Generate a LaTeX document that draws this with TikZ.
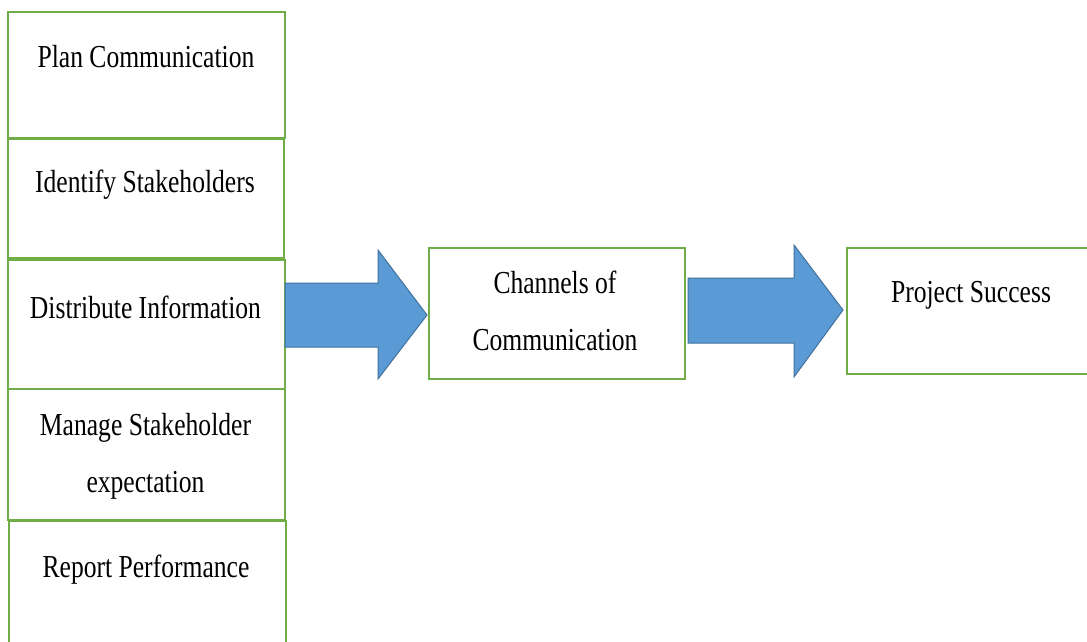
\documentclass[tikz,border=0pt]{standalone}
\usepackage{fontspec}
\setmainfont{Liberation Serif}[FakeStretch=0.8]
\definecolor{boxgreen}{HTML}{70AD47}
\definecolor{arrowblue}{HTML}{5B9BD5}
\definecolor{arrowedge}{HTML}{41719C}
\begin{document}
\begin{tikzpicture}[x=1pt,y=-1pt,
  box/.style={draw=boxgreen,line width=2pt,fill=white,anchor=north west,inner sep=0pt},
  lbl/.style={font=\fontsize{32}{38}\selectfont,inner sep=0pt,anchor=base},
  bigarrow/.style={fill=arrowblue,draw=arrowedge,line width=1pt,line join=miter}]
\useasboundingbox (0,0) rectangle (1087,642);
\clip (0,0) rectangle (1087,642);
\fill[white] (0,0) rectangle (1087,642);
% left column
\node[box,minimum width=277pt,minimum height=126pt] (b1) at (7,11) {};
\node[box,minimum width=276pt,minimum height=119pt] (b2) at (7,138) {};
\node[box,minimum width=277pt,minimum height=129pt] (b3) at (7,259) {};
\node[box,minimum width=277pt,minimum height=131pt] (b4) at (7,388) {};
\node[box,minimum width=277pt,minimum height=140pt] (b5) at (8,520) {};
\node[lbl] (t1) at (146,68) {Plan Communication};
\node[lbl] (t2) at (145,192) {Identify Stakeholders};
\node[lbl] (t3) at (145.5,318) {Distribute Information};
\node[lbl] (t4a) at (145.5,435) {Manage Stakeholder};
\node[lbl] (t4b) at (145.5,492) {expectation};
\node[lbl] (t5) at (146,577) {Report Performance};
% middle and right boxes
\node[box,minimum width=256pt,minimum height=131pt] (ch) at (428,247) {};
\node[lbl] (tch1) at (555,293) {Channels of};
\node[lbl] (tch2) at (555,350) {Communication};
\node[box,minimum width=250pt,minimum height=126pt] (ps) at (846,247) {};
\node[lbl] (tps) at (971,302) {Project Success};
% block arrows
\draw[bigarrow] (285,283) -- (378,283) -- (378,250) -- (427,315) -- (378,379) -- (378,347) -- (285,347) -- cycle;
\draw[bigarrow] (688,278) -- (794,278) -- (794,245) -- (843,310) -- (794,377) -- (794,343) -- (688,343) -- cycle;
\end{tikzpicture}
\end{document}
